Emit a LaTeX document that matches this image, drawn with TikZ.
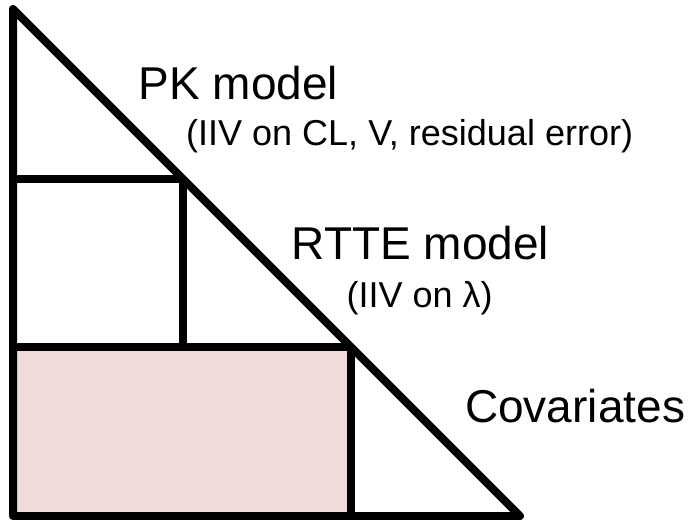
\documentclass[tikz,border=0pt]{standalone}
\usepackage{fontspec}
\setmainfont{Liberation Sans}
\definecolor{covfill}{RGB}{240,219,219}
\tikzset{
  edge/.style={line width=8pt, line join=round},
  bigtext/.style={anchor=base west, inner sep=0pt, font=\fontsize{46}{52}\selectfont},
  smalltext/.style={anchor=base west, inner sep=0pt, font=\fontsize{36}{42}\selectfont}
}
\begin{document}
\begin{tikzpicture}[x=1pt,y=-1pt]
    \useasboundingbox (0,0) rectangle (689,520);
    % corners of the big triangle and its inner boxes
    \coordinate (top) at (13,9);
    \coordinate (bl) at (13,516);
    \coordinate (br) at (520,516);
    \coordinate (a1) at (13,179);
    \coordinate (a2) at (183,179);
    \coordinate (a3) at (183,347);
    \coordinate (b1) at (13,347);
    \coordinate (b2) at (351,347);
    \coordinate (b3) at (351,516);
    %
    \fill[covfill] (b1) rectangle (b3);
    \draw[edge] (top)--(bl)--(br)--cycle;
    \draw[edge] (a1)--(a2)--(a3);
    \draw[edge] (b1)--(b2)--(b3);
    %
    \node(pk)[bigtext] at (138.5,99) {PK model};
    \node(pkiiv)[smalltext] at (186,145) {(IIV on CL, V, residual error)};
    \node(rtte)[bigtext] at (291.5,259) {RTTE model};
    \node(rtteiiv)[smalltext] at (346.5,307) {(IIV on λ)};
    \node(cov)[bigtext] at (465,422) {Covariates};
\end{tikzpicture}
\end{document}
